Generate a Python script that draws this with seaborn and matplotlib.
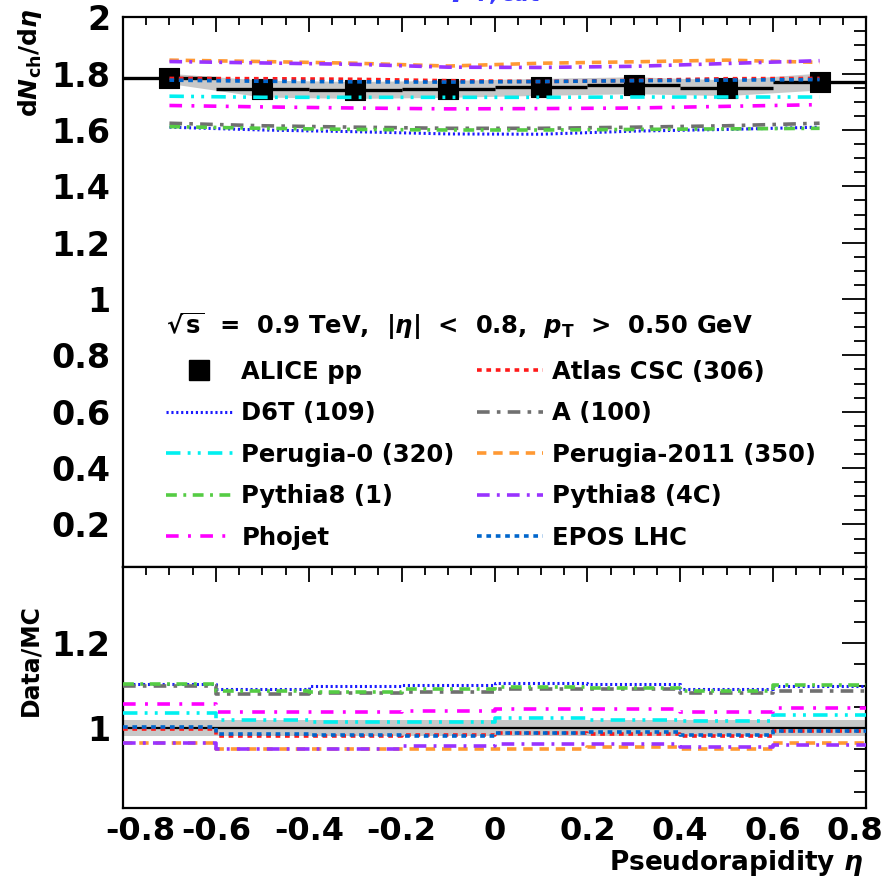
import numpy as np
import pandas as pd
import matplotlib
matplotlib.use("Agg")
import matplotlib.pyplot as plt
import seaborn as sns
from matplotlib.ticker import MultipleLocator, FuncFormatter
from matplotlib.lines import Line2D
import matplotlib.transforms as mtransforms

# ---------------- data ----------------
eta_centers = [-0.7, -0.5, -0.3, -0.1, 0.1, 0.3, 0.5, 0.7]
eta_edges = [-0.8, -0.6, -0.4, -0.2, 0.0, 0.2, 0.4, 0.6, 0.8]

alice_pp = [1.783, 1.747, 1.742, 1.746, 1.753, 1.759, 1.750, 1.772]
alice_sys = [0.018, 0.030, 0.030, 0.030, 0.030, 0.030, 0.028, 0.030]
ratio_sys = [0.018, 0.018, 0.018, 0.018, 0.018, 0.018, 0.018, 0.018]

atlas_csc = [1.783, 1.782, 1.780, 1.775, 1.772, 1.776, 1.782, 1.783]
d6t = [1.610, 1.600, 1.594, 1.586, 1.585, 1.596, 1.602, 1.610]
a_100 = [1.624, 1.615, 1.610, 1.606, 1.606, 1.610, 1.615, 1.624]
perugia0 = [1.720, 1.716, 1.716, 1.716, 1.716, 1.717, 1.717, 1.717]
perugia2011 = [1.848, 1.843, 1.837, 1.827, 1.837, 1.842, 1.848, 1.840]
pythia8_1 = [1.612, 1.606, 1.602, 1.600, 1.600, 1.602, 1.604, 1.606]
pythia8_4c = [1.843, 1.838, 1.833, 1.823, 1.822, 1.826, 1.836, 1.846]
phojet = [1.687, 1.682, 1.678, 1.675, 1.676, 1.678, 1.684, 1.690]
epos_lhc = [1.777, 1.773, 1.771, 1.770, 1.772, 1.775, 1.777, 1.779]

ratio_atlas_csc = [0.997, 0.982, 0.981, 0.985, 0.989, 0.987, 0.982, 0.994]
ratio_d6t = [1.104, 1.093, 1.099, 1.101, 1.107, 1.104, 1.093, 1.099]
ratio_a_100 = [1.099, 1.080, 1.082, 1.084, 1.091, 1.091, 1.082, 1.088]
ratio_perugia0 = [1.036, 1.019, 1.015, 1.015, 1.023, 1.020, 1.016, 1.031]
ratio_perugia2011 = [0.965, 0.950, 0.950, 0.952, 0.952, 0.955, 0.950, 0.965]
ratio_pythia8_1 = [1.105, 1.088, 1.085, 1.091, 1.097, 1.095, 1.088, 1.101]
ratio_pythia8_4c = [0.965, 0.950, 0.950, 0.958, 0.962, 0.962, 0.955, 0.960]
ratio_phojet = [1.056, 1.037, 1.037, 1.040, 1.046, 1.044, 1.037, 1.048]
ratio_epos_lhc = [1.002, 0.987, 0.985, 0.982, 0.989, 0.990, 0.984, 0.994]

models = [
    # name, upper values, ratio values, color, dash pattern, linewidth
    ("Atlas CSC (306)", atlas_csc, ratio_atlas_csc, "#ff1a1a", (0, (1.3, 1.3)), 2.6),
    ("D6T (109)", d6t, ratio_d6t, "#1a1aff", (0, (0.7, 0.9)), 2.2),
    ("A (100)", a_100, ratio_a_100, "#707070", (0, (3.5, 2.0, 1.0, 2.0)), 2.6),
    ("Perugia-0 (320)", perugia0, ratio_perugia0, "#00f0f0", (0, (4.0, 2.0, 0.8, 2.0, 0.8, 2.0)), 2.6),
    ("Perugia-2011 (350)", perugia2011, ratio_perugia2011, "#ff9933", (0, (2.6, 1.9)), 2.6),
    ("Pythia8 (1)", pythia8_1, ratio_pythia8_1, "#55cc44", (0, (3.0, 1.8, 0.8, 1.8)), 2.6),
    ("Pythia8 (4C)", pythia8_4c, ratio_pythia8_4c, "#9933ff", (0, (3.5, 2.0, 0.8, 2.0)), 2.6),
    ("Phojet", phojet, ratio_phojet, "#ff00ff", (0, (3.5, 2.6, 0.8, 2.6)), 2.6),
    ("EPOS LHC", epos_lhc, ratio_epos_lhc, "#0066cc", (0, (1.3, 1.3)), 2.6),
]

# ---------------- style ----------------
sns.set_theme(style="white")
plt.rcParams["font.family"] = ["DejaVu Sans"]
plt.rcParams["font.weight"] = "bold"
plt.rcParams["axes.linewidth"] = 1.6
plt.rcParams["mathtext.fontset"] = "dejavusans"
for k in ("text.color", "axes.labelcolor", "xtick.color", "ytick.color", "axes.edgecolor"):
    plt.rcParams[k] = "black"

fig = plt.figure(figsize=(8.86, 8.81), dpi=100)
W, H = 886.0, 881.0
x0, x1 = 123 / W, 866 / W
y_top, y_mid, y_bot = 1 - 17.3 / H, 1 - 566.7 / H, 1 - 808 / H
ax = fig.add_axes([x0, y_mid, x1 - x0, y_top - y_mid])
axr = fig.add_axes([x0, y_bot, x1 - x0, y_mid - y_bot], sharex=ax)

# ---------------- upper panel ----------------
df = pd.DataFrame({"eta": eta_centers, "alice": alice_pp, "sys": alice_sys})
ax.fill_between(df["eta"], df["alice"] - df["sys"], df["alice"] + df["sys"],
                color="#c8c8c8", lw=0, zorder=1)
ax.errorbar(df["eta"], df["alice"], xerr=0.1, fmt="none", ecolor="black",
            elinewidth=2.4, capsize=0, zorder=2)
sns.scatterplot(data=df, x="eta", y="alice", marker="s", s=190, color="black",
                edgecolor="black", linewidth=0.8, ax=ax, zorder=3, legend=False)

for name, vals, rvals, col, dash, lw in models:
    sns.lineplot(x=eta_centers, y=vals, color=col, lw=lw, ax=ax, zorder=4,
                 linestyle=dash, legend=False)
    steps_y = list(rvals) + [rvals[-1]]
    sns.lineplot(x=eta_edges, y=steps_y, color=col, lw=lw, ax=axr, zorder=4,
                 linestyle=dash, drawstyle="steps-post", legend=False)

ax.set_xlim(-0.8, 0.8)
ax.set_ylim(0.05, 2.0)
ax.set_xlabel("")
ax.set_ylabel("")

fmt = FuncFormatter(lambda v, p: "%g" % round(v, 3))

ax.yaxis.set_major_locator(MultipleLocator(0.2))
ax.yaxis.set_minor_locator(MultipleLocator(0.05))
ax.yaxis.set_major_formatter(fmt)
ax.xaxis.set_major_locator(MultipleLocator(0.2))
ax.xaxis.set_minor_locator(MultipleLocator(0.05))
ax.tick_params(axis="x", which="both", labelbottom=False)

for a in (ax, axr):
    a.tick_params(which="both", direction="in", top=True, right=True,
                  color="black", width=1.3)
    a.tick_params(axis="y", which="major", length=17, labelsize=24, pad=9)
    a.tick_params(axis="y", which="minor", length=8.5)
    a.tick_params(axis="x", which="major", length=11, labelsize=23, pad=6)
    a.tick_params(axis="x", which="minor", length=5.5)

# ---------------- lower panel ----------------
rdf = pd.DataFrame({"edge": eta_edges,
                    "lo": [1 - s for s in ratio_sys] + [1 - ratio_sys[-1]],
                    "hi": [1 + s for s in ratio_sys] + [1 + ratio_sys[-1]]})
axr.fill_between(rdf["edge"], rdf["lo"], rdf["hi"], step="post",
                 color="#c8c8c8", lw=0, zorder=1)
axr.axhline(1.0, color="black", lw=1.6, zorder=2)
axr.set_ylim(0.812, 1.38)
axr.set_xlim(-0.8, 0.8)
axr.yaxis.set_major_locator(MultipleLocator(0.2))
axr.yaxis.set_minor_locator(MultipleLocator(0.05))
axr.yaxis.set_major_formatter(fmt)
axr.xaxis.set_major_formatter(fmt)
axr.set_xlabel("")
axr.set_ylabel("")

fig.canvas.draw()
for a in (ax, axr):
    for lab in a.get_xticklabels() + a.get_yticklabels():
        lab.set_fontweight("bold")
# edge labels nudged inwards, as in the reference
for tick in axr.xaxis.get_major_ticks():
    loc = tick.get_loc()
    if loc is None:
        continue
    dx = 0
    if abs(loc + 0.8) < 1e-6:
        dx = 17
    elif abs(loc - 0.8) < 1e-6:
        dx = -11
    if dx:
        lab = tick.label1
        lab.set_transform(lab.get_transform() +
                          mtransforms.ScaledTranslation(dx / 100.0, 0, fig.dpi_scale_trans))

# ---------------- legend ----------------
handles = [Line2D([], [], color="black", marker="s", markersize=14, lw=0)]
labels = ["ALICE pp"]
order_col1 = ["D6T (109)", "Perugia-0 (320)", "Pythia8 (1)", "Phojet"]
order_col2 = ["Atlas CSC (306)", "A (100)", "Perugia-2011 (350)", "Pythia8 (4C)", "EPOS LHC"]
lookup = {m[0]: m for m in models}
for nm in order_col1 + order_col2:
    m = lookup[nm]
    handles.append(Line2D([], [], color=m[3], lw=m[5], linestyle=m[4]))
    labels.append(nm)

leg = ax.legend(handles, labels, ncol=2, frameon=False,
                loc="upper left", bbox_to_anchor=(166 / W, 1 - 311 / H),
                bbox_transform=fig.transFigure,
                prop={"weight": "bold", "size": 17.5},
                title=r"$\sqrt{\mathbf{s}}$  =  0.9 TeV,  |$\eta$|  <  0.8,  $\mathbfit{p}_{\mathbf{T}}$  >  0.50 GeV",
                title_fontproperties={"weight": "bold", "size": 17.5},
                alignment="left", handlelength=2.75, handletextpad=0.35,
                columnspacing=0.9, labelspacing=0.72, borderpad=0,
                borderaxespad=0)

# ---------------- labels ----------------
fig.text(30 / W, 1 - 8 / H, r"d$\mathbfit{N}_{\mathbf{ch}}$/d$\eta$",
         rotation=90, ha="center", va="top", fontsize=18, fontweight="bold")
fig.text(30 / W, 1 - 660 / H, "Data/MC", rotation=90, ha="center",
         va="center", fontsize=17, fontweight="bold")
fig.text(863 / W, 1 - 863 / H, r"Pseudorapidity $\eta$", ha="right",
         va="center", fontsize=19, fontweight="bold")
fig.text(452 / W, 1 + 3 / H, r"$p_{T,cut}$", ha="left", va="baseline",
         fontsize=22, color="#3a3aff")

fig.savefig("out.png", dpi=100)
